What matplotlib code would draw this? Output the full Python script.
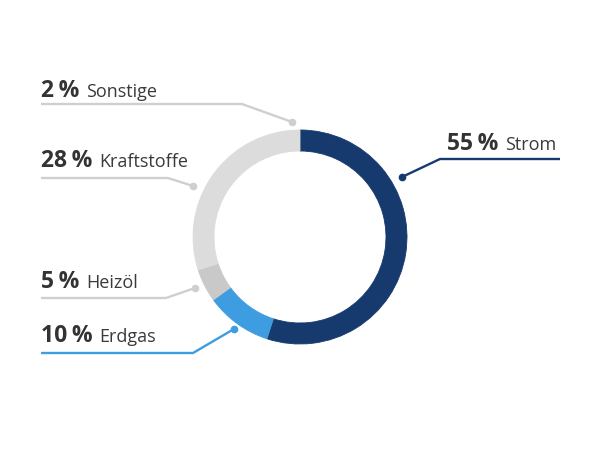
import matplotlib
matplotlib.use("Agg")
import matplotlib.pyplot as plt

# Data
categories = ["Strom", "Erdgas", "Heizöl", "Kraftstoffe", "Sonstige"]
values = [55, 10, 5, 28, 2]
colors = ["#163a6e", "#3d9de0", "#c9c9c9", "#dcdcdc", "#dcdcdc"]
line_colors = ["#163a6e", "#3d9de0", "#cfcfcf", "#cfcfcf", "#cfcfcf"]

H = 450
fig = plt.figure(figsize=(6, 4.5), dpi=100)
ax = fig.add_axes([0, 0, 1, 1])

cx, cy, R, W = 300, H - 237, 107, 21
wedges, _ = ax.pie(values, colors=colors, startangle=90, counterclock=False,
                   center=(cx, cy), radius=R,
                   wedgeprops=dict(width=W, linewidth=0.6))
for w, c in zip(wedges, colors):
    w.set_edgecolor(c)
ax.set_xlim(0, 600)
ax.set_ylim(0, H)
ax.set_aspect("auto")
ax.axis("off")

# leader layouts (image pixel coords): polyline points, text anchor
layout = {
    "Strom":       dict(pts=[(402, 177), (440, 159), (560, 159)], txt=(447, 150)),
    "Sonstige":    dict(pts=[(292, 122), (242, 104), (41, 104)], txt=(41, 97)),
    "Kraftstoffe": dict(pts=[(193, 186), (168, 178), (41, 178)], txt=(41, 167)),
    "Heizöl":      dict(pts=[(195, 288), (166, 298), (41, 298)], txt=(41, 288)),
    "Erdgas":      dict(pts=[(234, 329), (193, 353), (41, 353)], txt=(41, 342)),
}

fam = ["Open Sans", "DejaVu Sans"]
fig.canvas.draw()
renderer = fig.canvas.get_renderer()
for cat, val, lc in zip(categories, values, line_colors):
    L = layout[cat]
    xs = [p[0] for p in L["pts"]]
    ys = [H - p[1] for p in L["pts"]]
    ax.plot(xs, ys, color=lc, lw=1.7, solid_capstyle="butt", zorder=3)
    ax.plot(xs[0], ys[0], "o", color=lc, ms=4.5, zorder=4)
    tx, ty = L["txt"]
    t = ax.text(tx, H - ty, f"{val}\u2009%", fontsize=16.5, fontweight="bold",
                color="#333333", family=fam, va="baseline", ha="left")
    bb = t.get_window_extent(renderer=renderer)
    x1 = ax.transData.inverted().transform((bb.x1, bb.y0))[0]
    ax.text(x1 + 7, H - ty, cat, fontsize=13, color="#3a3a3a",
            family=fam, va="baseline", ha="left")

fig.savefig("out.png", dpi=100, facecolor="white")
